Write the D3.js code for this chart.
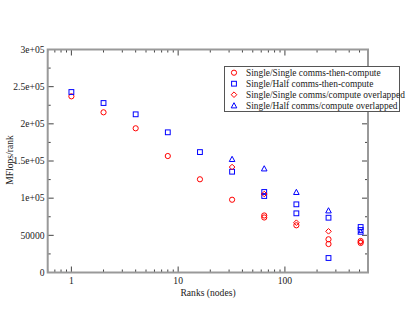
<!DOCTYPE html>
<html><head><meta charset="utf-8">
<script src="https://cdn.jsdelivr.net/npm/d3@7"></script>
<style>html,body{margin:0;padding:0;background:#fff;}svg{display:block;}</style>
</head><body>
<svg id="c" width="415" height="321"></svg>
<script>
const seriesNames = ["Single/Single comms-then-compute","Single/Half comms-then-compute","Single/Single comms/compute overlapped","Single/Half comms/compute overlapped"];
const ssThenRanks = [1,2,4,8,16,32,64,64,128,256,256,512,512];
const ssThenVals  = [237000,215500,194000,156700,125400,97900,76700,74000,63500,44700,38300,42400,39700];
const shThenRanks = [1,2,4,8,16,32,64,64,128,128,256,256,512,512];
const shThenVals  = [242800,228000,212800,188600,162000,135600,108300,102900,91700,79600,73700,19500,61200,57200];
const ssOverRanks = [32,64,128,256,512];
const ssOverVals  = [141900,105600,67000,55400,41000];
const shOverRanks = [32,64,128,256,512];
const shOverVals  = [152300,139600,107900,83100,54500];
const yTicks = [0,50000,100000,150000,200000,250000,300000];
const yTickLabels = ["0","50000","1e+05","1.5e+05","2e+05","2.5e+05","3e+05"];
const xTicks = [1,10,100];
const xTickLabels = ["1","10","100"];

const svg = d3.select("#c");
const L=47.7,R=368,T=49.5,B=272.5;
const x = d3.scaleLog().domain([0.6,600]).range([L,R]);
const y = d3.scaleLinear().domain([0,300000]).range([B,T]);
const font = "'Liberation Serif','Times New Roman',serif";
const tickCol = "#444", frameCol="#999";

const xMinor = [];
for (let d of [0.1,1,10,100]) for (let k=1;k<10;k++){const v=d*k; if(v>=0.6&&v<=600) xMinor.push(v);}
const g = svg.append("g");
xMinor.forEach(v=>{
  const major = xTicks.includes(v);
  const len = major?6:3;
  g.append("line").attr("x1",x(v)).attr("x2",x(v)).attr("y1",B).attr("y2",B-len).attr("stroke",tickCol).attr("stroke-width",1);
  g.append("line").attr("x1",x(v)).attr("x2",x(v)).attr("y1",T).attr("y2",T+len).attr("stroke",tickCol).attr("stroke-width",1);
});
const yMinor = d3.range(0,300001,25000);
yMinor.forEach(v=>{
  const major = v%50000===0;
  const len = major?6:3;
  g.append("line").attr("x1",L).attr("x2",L+len).attr("y1",y(v)).attr("y2",y(v)).attr("stroke",tickCol).attr("stroke-width",1);
  g.append("line").attr("x1",R).attr("x2",R-len).attr("y1",y(v)).attr("y2",y(v)).attr("stroke",tickCol).attr("stroke-width",1);
});
svg.append("rect").attr("x",L).attr("y",T).attr("width",R-L).attr("height",B-T).attr("fill","none").attr("stroke",frameCol).attr("stroke-width",2);

yTicks.forEach((v,i)=>{
  svg.append("text").attr("x",44.5).attr("y",y(v)+3.2).attr("text-anchor","end").attr("font-family",font).attr("font-size",9.6).attr("fill","#222").text(yTickLabels[i]);
});
xTicks.forEach((v,i)=>{
  svg.append("text").attr("x",x(v)).attr("y",284).attr("text-anchor","middle").attr("font-family",font).attr("font-size",9.6).attr("fill","#222").text(xTickLabels[i]);
});
svg.append("text").attr("x",208).attr("y",296).attr("text-anchor","middle").attr("font-family",font).attr("font-size",9.6).attr("fill","#222").text("Ranks (nodes)");
svg.append("text").attr("transform","translate(13,160) rotate(-90)").attr("text-anchor","middle").attr("font-family",font).attr("font-size",9.6).attr("fill","#222").text("MFlops/rank");

function marker(sel, type, color){
  if(type==="circle") sel.append("circle").attr("r",2.6).attr("fill","none").attr("stroke",color).attr("stroke-width",1);
  else if(type==="square") sel.append("rect").attr("x",-2.4).attr("y",-2.4).attr("width",4.8).attr("height",4.8).attr("fill","none").attr("stroke",color).attr("stroke-width",1);
  else if(type==="diamond") sel.append("path").attr("d","M0,-2.8L2.8,0L0,2.8L-2.8,0Z").attr("fill","none").attr("stroke",color).attr("stroke-width",1);
  else sel.append("path").attr("d","M0,-3L2.8,2.2L-2.8,2.2Z").attr("fill","none").attr("stroke",color).attr("stroke-width",1);
}
const series = [
  {r:ssThenRanks,v:ssThenVals,type:"circle",color:"#ff0000"},
  {r:shThenRanks,v:shThenVals,type:"square",color:"#0000ff"},
  {r:ssOverRanks,v:ssOverVals,type:"diamond",color:"#ff0000"},
  {r:shOverRanks,v:shOverVals,type:"triangle",color:"#0000ff"}
];
series.forEach(s=>{
  s.r.forEach((rk,i)=>{
    const m = svg.append("g").attr("transform",`translate(${x(rk)},${y(s.v[i])})`);
    marker(m,s.type,s.color);
  });
});

const lg = svg.append("g");
lg.append("rect").attr("x",224.5).attr("y",66.5).attr("width",175).attr("height",45).attr("fill","#fff").attr("stroke","#555").attr("stroke-width",1);
series.forEach((s,i)=>{
  const yy = 72.7+i*11;
  const m = lg.append("g").attr("transform",`translate(234,${yy})`);
  marker(m,s.type,s.color);
  lg.append("text").attr("x",246).attr("y",yy+3.2).attr("font-family",font).attr("font-size",9.4).attr("fill","#222").text(seriesNames[i]);
});
</script>
</body></html>
